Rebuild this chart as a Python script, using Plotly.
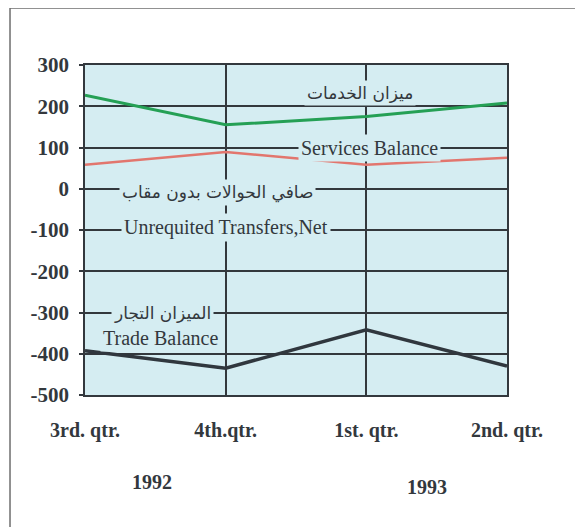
import plotly.graph_objects as go

quarters = ["3rd. qtr.", "4th.qtr.", "1st. qtr.", "2nd. qtr."]
years = ["1992", "1993"]

services = [227, 155, 175, 208]
transfers = [58, 89, 58, 75]
trade = [-393, -435, -342, -430]

y_ticks = [300, 200, 100, 0, -100, -200, -300, -400, -500]
y_text = [str(v) for v in y_ticks]  # plain hyphen, not unicode minus

bg = "#d5edf2"
ink = "#33383d"
serif = "Liberation Serif, Times New Roman, DejaVu Serif, serif"
arab = "DejaVu Sans, Noto Sans, sans-serif"

fig = go.Figure()
fig.add_trace(go.Scatter(x=quarters, y=services, mode="lines",
                         line=dict(color="#25a055", width=3)))
fig.add_trace(go.Scatter(x=quarters, y=transfers, mode="lines",
                         line=dict(color="#e2766e", width=2.5)))
fig.add_trace(go.Scatter(x=quarters, y=trade, mode="lines",
                         line=dict(color="#30373e", width=3.5)))


def label(text, x, y, font, size=20):
    fig.add_annotation(x=x, y=y, xref="x", yref="y", text=text,
                       showarrow=False, bgcolor=bg, borderpad=2,
                       font=dict(family=font, size=size, color=ink))


# series labels sit on the grid and hide it behind them
label("ميزان الخدمات", 1.955, 232, arab, 17)
label("Services Balance", 2.02, 100, serif)
label("صافي الحوالات بدون مقاب", 0.945, -10, arab, 17)
label("Unrequited Transfers,Net", 1.0, -95, serif)
label("الميزان التجار", 0.55, -301, arab, 17)
label("Trade Balance", 0.54, -362, serif)

for yr, xp, yp in zip(years, [0.159, 0.81], [-0.264, -0.279]):
    fig.add_annotation(x=xp, y=yp, xref="paper", yref="paper", text=yr,
                       showarrow=False, xanchor="center", yanchor="middle",
                       font=dict(family=serif, size=20, color=ink, weight="bold"))

# outer frame
fig.add_shape(type="rect", xref="paper", yref="paper",
              x0=-0.1777, x1=1.1706, y0=-0.45, y1=1.1727,
              line=dict(color="#6e6e6e", width=1.5), layer="below")

# page body adds 8px, so the figure is 8px smaller and shifted
fig.update_layout(
    width=575, height=519,
    margin=dict(l=77, r=76, t=57, b=132),
    paper_bgcolor="white", plot_bgcolor=bg,
    showlegend=False,
    xaxis=dict(type="category", range=[0, 3], showgrid=True,
               gridcolor=ink, gridwidth=1.5, ticks="",
               ticklabelstandoff=16, zeroline=False,
               showline=True, linecolor=ink, linewidth=1.5, mirror=True,
               tickfont=dict(family=serif, size=20, color=ink, weight="bold")),
    yaxis=dict(range=[-500, 300], tickvals=y_ticks, ticktext=y_text,
               showgrid=True, gridcolor=ink, gridwidth=1.5,
               ticks="outside", ticklen=4,
               tickcolor=ink, tickwidth=1.5, ticklabelstandoff=6,
               zeroline=False,
               showline=True, linecolor=ink, linewidth=1.5, mirror=True,
               tickfont=dict(family=serif, size=21, color=ink, weight="bold")),
)

fig.write_html("out.html")
